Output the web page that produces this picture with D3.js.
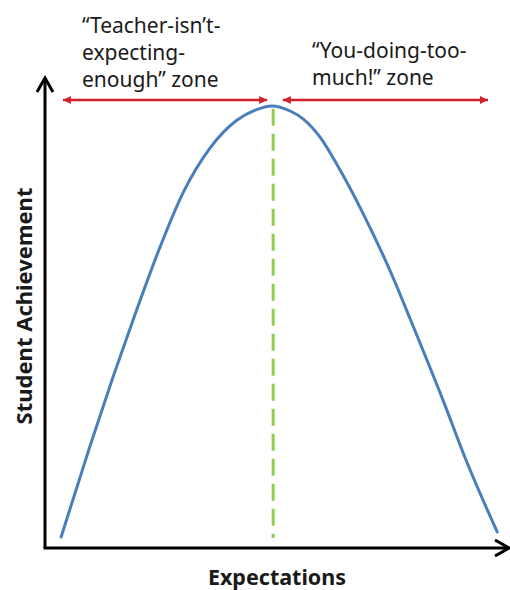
<!DOCTYPE html>
<html>
<head>
<meta charset="utf-8">
<script src="https://cdn.jsdelivr.net/npm/d3@7"></script>
<style>
  body { margin: 0; background: #fff; }
  text { font-family: "Noto Sans", sans-serif; }
</style>
</head>
<body>
<div id="chart"></div>
<script>
// curve points (expectations, achievement), 0-10 units
const expectation = [0.35, 0.98, 1.48, 1.93, 2.50, 3.00, 3.59, 4.17, 4.57, 4.93, 5.33, 5.61, 5.98, 6.35, 6.91, 7.57, 7.93, 8.65, 9.17, 9.83];
const achievement = [0.24, 2.22, 3.72, 5.00, 6.54, 7.72, 8.70, 9.30, 9.52, 9.61, 9.50, 9.33, 8.93, 8.33, 7.28, 5.87, 5.00, 3.22, 1.87, 0.35];

const peakX = 4.96;
const zoneFrom = [0.39, 5.17];
const zoneTo = [4.83, 9.63];
const zoneLabels = [
  ["\u201CTeacher-isn\u2019t-", "expecting-", "enough\u201D zone"],
  ["\u201CYou-doing-too-", "much!\u201D zone"]
];
const xLabel = "Expectations";
const yLabel = "Student Achievement";

const svg = d3
  .select("#chart")
  .append("svg")
  .attr("width", 510)
  .attr("height", 590);

const x = d3.scaleLinear().domain([0, 10]).range([45, 505]);
const y = d3.scaleLinear().domain([0, 10]).range([548, 88]);

const defs = svg.append("defs");
// open chevron for the axes
defs.append("marker")
  .attr("id", "axisHead")
  .attr("viewBox", "0 0 20 20")
  .attr("refX", 17).attr("refY", 10)
  .attr("markerWidth", 20).attr("markerHeight", 20)
  .attr("markerUnits", "userSpaceOnUse")
  .attr("orient", "auto")
  .append("path")
  .attr("d", "M3,2 L17,10 L3,18")
  .attr("fill", "none")
  .attr("stroke", "#000")
  .attr("stroke-width", 3);
// small filled heads for zone arrows
["zoneEnd", "zoneStart"].forEach((id, i) => {
  defs.append("marker")
    .attr("id", id)
    .attr("viewBox", "0 0 10 10")
    .attr("refX", i ? 0 : 10).attr("refY", 5)
    .attr("markerWidth", 9).attr("markerHeight", 8)
    .attr("markerUnits", "userSpaceOnUse")
    .attr("orient", "auto")
    .append("path")
    .attr("d", i ? "M10,0 L0,5 L10,10 Z" : "M0,0 L10,5 L0,10 Z")
    .attr("fill", "#d0202a");
});

// axes
svg.append("line")
  .attr("x1", x(0)).attr("y1", y(0))
  .attr("x2", x(0)).attr("y2", 78)
  .attr("stroke", "#000").attr("stroke-width", 3)
  .attr("marker-end", "url(#axisHead)");
svg.append("line")
  .attr("x1", x(0) - 1.5).attr("y1", y(0))
  .attr("x2", 509).attr("y2", y(0))
  .attr("stroke", "#000").attr("stroke-width", 3)
  .attr("marker-end", "url(#axisHead)");

// peak marker
svg.append("line")
  .attr("x1", x(peakX)).attr("y1", y(9.55))
  .attr("x2", x(peakX)).attr("y2", y(0.22))
  .attr("stroke", "#8fcf4f")
  .attr("stroke-width", 3)
  .attr("stroke-dasharray", "17 8");

// curve
const points = expectation.map((d, i) => ({ x: d, y: achievement[i] }));
const line = d3.line()
  .x(d => x(d.x))
  .y(d => y(d.y))
  .curve(d3.curveMonotoneX);
svg.append("path")
  .datum(points)
  .attr("d", line)
  .attr("fill", "none")
  .attr("stroke", "#4a7ebb")
  .attr("stroke-width", 3)
  .attr("stroke-linecap", "round");

// zone arrows
zoneFrom.forEach((f, i) => {
  svg.append("line")
    .attr("x1", x(f)).attr("y1", 100)
    .attr("x2", x(zoneTo[i])).attr("y2", 100)
    .attr("stroke", "#d0202a")
    .attr("stroke-width", 2.5)
    .attr("marker-start", "url(#zoneStart)")
    .attr("marker-end", "url(#zoneEnd)");
});

// zone labels
const labelPos = [{ x: 82, y: 33 }, { x: 312, y: 58 }];
zoneLabels.forEach((lines, i) => {
  const t = svg.append("text")
    .attr("x", labelPos[i].x)
    .attr("y", labelPos[i].y)
    .attr("font-size", 21)
    .attr("fill", "#1a1a1a");
  lines.forEach((l, j) => {
    t.append("tspan")
      .attr("x", labelPos[i].x)
      .attr("dy", j ? 27 : 0)
      .text(l);
  });
});

// axis titles
svg.append("text")
  .attr("x", 277).attr("y", 585)
  .attr("text-anchor", "middle")
  .attr("font-size", 21.5)
  .attr("font-weight", "bold")
  .attr("fill", "#1a1a1a")
  .text(xLabel);
svg.append("text")
  .attr("transform", "translate(32,306) rotate(-90)")
  .attr("text-anchor", "middle")
  .attr("font-size", 22)
  .attr("font-weight", "bold")
  .attr("fill", "#1a1a1a")
  .text(yLabel);
</script>
</body>
</html>
